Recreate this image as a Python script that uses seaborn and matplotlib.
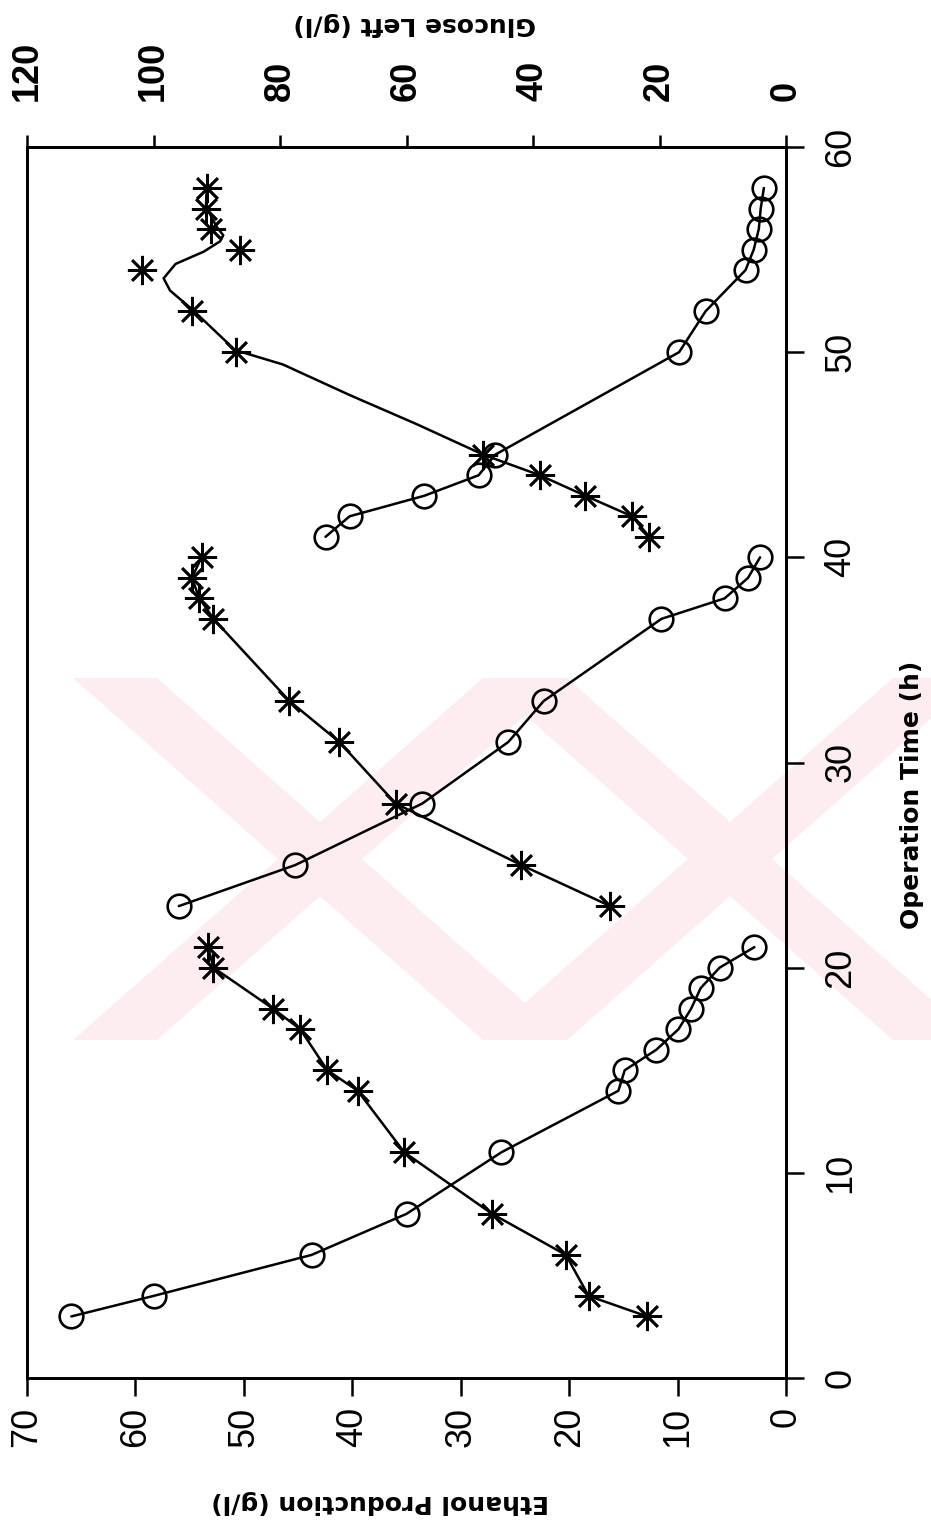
import numpy as np
import pandas as pd
import seaborn as sns
import matplotlib
matplotlib.use("Agg")
import matplotlib.pyplot as plt
from matplotlib.patches import Polygon, Rectangle

# batch 1
t_glu1 = [3, 4, 6, 8, 11, 14, 15, 16, 17, 18, 19, 20, 21]
glu1 = [113, 100, 75, 60, 45, 26.5, 25.5, 20.5, 17, 15, 13.5, 10.5, 5]
t_eth1 = [3, 4, 6, 8, 11, 14, 15, 17, 18, 20, 21]
eth1 = [12.8, 18.2, 20.3, 27.1, 35.2, 39.5, 42.3, 44.8, 47.3, 52.8, 53.3]

# batch 2
t_glu2 = [23, 25, 28, 31, 33, 37, 38, 39, 40]
glu2 = [96, 77.6, 57.5, 43.9, 38.3, 19.7, 9.7, 6, 4.1]
t_eth2 = [23, 25, 28, 31, 33, 37, 38, 39, 40]
eth2 = [16.2, 24.4, 36.0, 41.2, 45.8, 52.8, 54.1, 54.8, 53.9]

# batch 3
t_glu3 = [41, 42, 43, 44, 45, 50, 52, 54, 55, 56, 57, 58]
glu3 = [72.8, 69, 57.2, 48.6, 46, 16.9, 12.7, 6.4, 5.1, 4.3, 4.0, 3.5]
t_eth3 = [41, 42, 43, 44, 45, 50, 52, 54, 55, 56, 57, 58]
eth3 = [12.6, 14.2, 18.5, 22.7, 27.9, 50.7, 54.8, 59.4, 50.4, 53.0, 53.5, 53.4]
# fitted curve for batch 3 ethanol
t_fit3 = [41, 42, 43, 44, 45, 46.5, 47.9, 49.4, 50.1, 52.1, 53.0, 53.6,
          54.3, 54.9, 55.4, 55.7, 56.1, 57.1, 58.1]
eth_fit3 = [12.6, 14.2, 18.5, 22.7, 27.9, 34.1, 40.2, 46.4, 50.8, 54.8, 56.8,
            57.4, 56.3, 53.7, 52.2, 51.9, 52.5, 53.5, 53.4]

eth_ticks = [0, 10, 20, 30, 40, 50, 60, 70]
glu_ticks = [0, 20, 40, 60, 80, 100, 120]
time_ticks = [0, 10, 20, 30, 40, 50, 60]

sns.set_style("ticks")
plt.rcParams["font.family"] = ["Liberation Sans", "DejaVu Sans"]
plt.rcParams["text.color"] = "black"
plt.rcParams["xtick.color"] = "black"
plt.rcParams["ytick.color"] = "black"
plt.rcParams["axes.labelcolor"] = "black"

W, H = 931, 1531
fig = plt.figure(figsize=(W / 100, H / 100), dpi=100)

def fx(x, y):
    return (x / W, 1 - y / H)

# faint pink watermark behind the chart
clip = Rectangle(fx(60, 1040), (931 - 60) / W, (1040 - 678) / H,
                 transform=fig.transFigure, facecolor="none", edgecolor="none")
fig.patches.append(clip)
hw = 42
for xt, xb in [(115, 525), (525, 115), (525, 935), (935, 525)]:
    poly = Polygon([fx(xt - hw, 678), fx(xt + hw, 678), fx(xb + hw, 1040), fx(xb - hw, 1040)],
                   closed=True, transform=fig.transFigure, facecolor="#fdedf0",
                   edgecolor="none", zorder=-5)
    poly.set_clip_path(clip)
    fig.patches.append(poly)

ax = fig.add_axes([27 / W, 1 - 1378 / H, 759 / W, 1231 / H])
ax.patch.set_visible(False)
axg = ax.twiny()
axg.patch.set_visible(False)

line_kw = dict(color="black", lw=1.8, estimator=None, sort=False, orient="y")
circ_kw = dict(color="black", linestyle="none", marker="o", ms=17, mfc="none",
               mec="black", mew=1.9, estimator=None, sort=False, orient="y")
star_kw = dict(color="black", linestyle="none", marker=(8, 2, 0), ms=21,
               mec="black", mew=1.9, estimator=None, sort=False, orient="y")

for tg, g in [(t_glu1, glu1), (t_glu2, glu2), (t_glu3, glu3)]:
    sns.lineplot(x=g, y=tg, ax=axg, **line_kw)
    sns.lineplot(x=g, y=tg, ax=axg, **circ_kw)

for te, e in [(t_eth1, eth1), (t_eth2, eth2), (t_fit3, eth_fit3)]:
    sns.lineplot(x=e, y=te, ax=ax, **line_kw)
for te, e in [(t_eth1, eth1), (t_eth2, eth2), (t_eth3, eth3)]:
    sns.lineplot(x=e, y=te, ax=ax, **star_kw)

ax.set_xlim(70, 0)
axg.set_xlim(120, 0)
ax.set_ylim(0, 60)
ax.set_xlabel("")
ax.set_ylabel("")
axg.set_xlabel("")
axg.set_ylabel("")

ax.set_xticks(eth_ticks)
ax.set_xticklabels([str(v) for v in eth_ticks])
ax.set_yticks(time_ticks)
ax.set_yticklabels([str(v) for v in time_ticks])
ax.yaxis.tick_right()
axg.set_xticks(glu_ticks)
axg.set_xticklabels([str(v) for v in glu_ticks])

ax.tick_params(axis="x", direction="out", length=13, width=1.8, labelsize=26,
               labelrotation=90, pad=8, color="black", labelcolor="black")
ax.tick_params(axis="y", direction="out", length=13, width=1.8, labelsize=26,
               labelrotation=90, pad=14, left=False, right=True,
               labelleft=False, labelright=True, color="black", labelcolor="black")
axg.tick_params(axis="x", direction="out", length=9, width=1.8, labelsize=26,
                labelrotation=90, pad=24, color="black", labelcolor="black")
for lbl in ax.get_yticklabels():
    lbl.set_va("center")
for lbl in axg.get_xticklabels():
    lbl.set_fontweight("bold")

for a in (ax, axg):
    for sp in a.spines.values():
        sp.set_linewidth(2.0)
        sp.set_color("black")
        sp.set_visible(True)

lab = dict(family="DejaVu Sans", fontweight="bold", fontsize=18, ha="center",
           va="center", color="black")
fig.text(*fx(415, 24), "Glucose Left (g/l)", rotation=180, **lab)
fig.text(*fx(380, 1502), "Ethanol Production (g/l)", rotation=180, **lab)
fig.text(*fx(912, 795), "Operation Time (h)", rotation=90, **lab)

fig.savefig("out.png", dpi=100)
